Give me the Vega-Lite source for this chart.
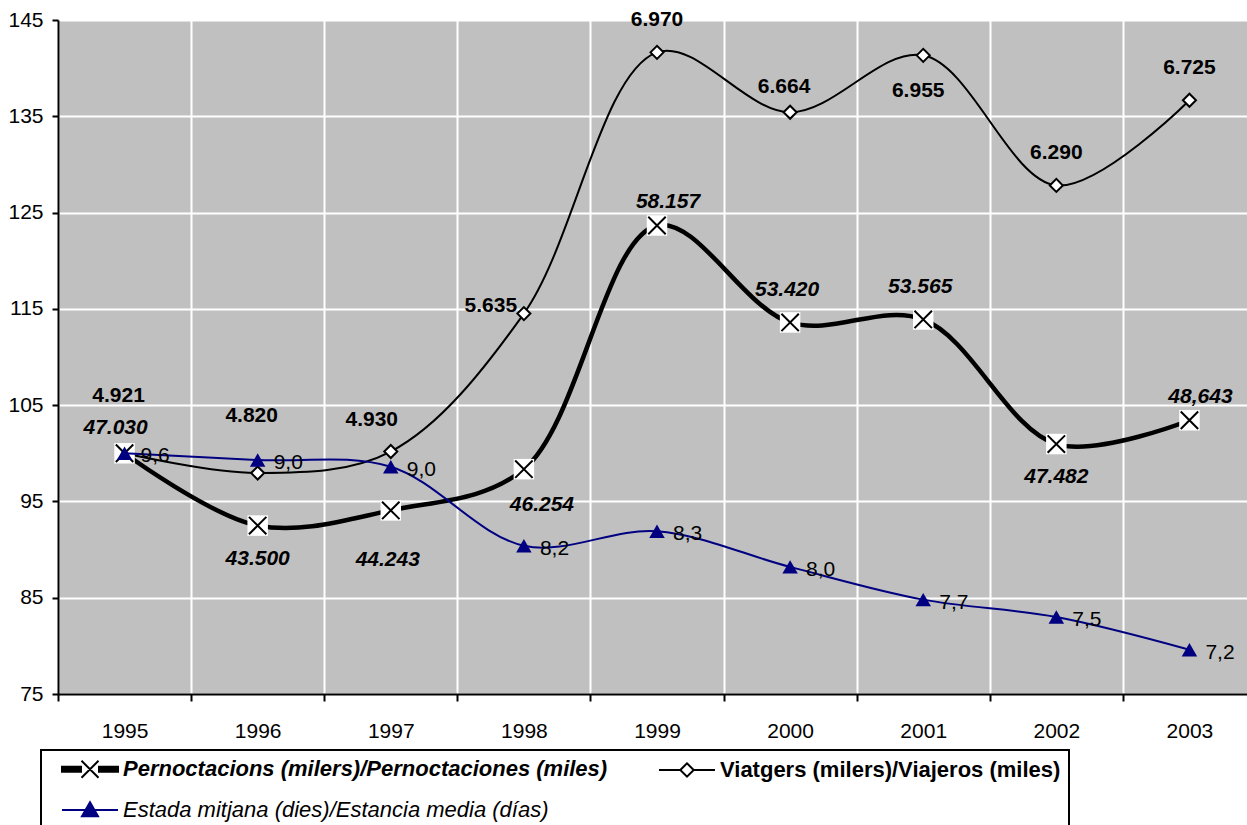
{
  "$schema": "https://vega.github.io/schema/vega-lite/v6.json",
  "autosize": {"type": "none"},
  "padding": {"left": 58, "top": 20, "right": 0, "bottom": 131},
  "width": 1189,
  "height": 674,
  "background": "white",
  "config": {
    "view": {"fill": "#C0C0C0", "stroke": null},
    "font": "Liberation Sans",
    "axis": {
      "labelFont": "Liberation Sans",
      "labelFontSize": 21,
      "labelColor": "black",
      "domainColor": "black",
      "domainWidth": 2,
      "tickColor": "black",
      "tickWidth": 2,
      "gridColor": "white",
      "gridWidth": 2,
      "gridOpacity": 1,
      "title": null
    },
    "text": {"font": "Liberation Sans", "fontSize": 21, "baseline": "middle", "color": "black"}
  },
  "data": {
    "values": [
      {"year": "1995", "key": "P", "serie": "Pernoctacions (milers)/Pernoctaciones (miles)", "value": 100.0, "label": "47.030"},
      {"year": "1996", "key": "P", "serie": "Pernoctacions (milers)/Pernoctaciones (miles)", "value": 92.49, "label": "43.500"},
      {"year": "1997", "key": "P", "serie": "Pernoctacions (milers)/Pernoctaciones (miles)", "value": 94.07, "label": "44.243"},
      {"year": "1998", "key": "P", "serie": "Pernoctacions (milers)/Pernoctaciones (miles)", "value": 98.35, "label": "46.254"},
      {"year": "1999", "key": "P", "serie": "Pernoctacions (milers)/Pernoctaciones (miles)", "value": 123.66, "label": "58.157"},
      {"year": "2000", "key": "P", "serie": "Pernoctacions (milers)/Pernoctaciones (miles)", "value": 113.59, "label": "53.420"},
      {"year": "2001", "key": "P", "serie": "Pernoctacions (milers)/Pernoctaciones (miles)", "value": 113.90, "label": "53.565"},
      {"year": "2002", "key": "P", "serie": "Pernoctacions (milers)/Pernoctaciones (miles)", "value": 100.96, "label": "47.482"},
      {"year": "2003", "key": "P", "serie": "Pernoctacions (milers)/Pernoctaciones (miles)", "value": 103.43, "label": "48,643"},
      {"year": "1995", "key": "V", "serie": "Viatgers (milers)/Viajeros (miles)", "value": 100.0, "label": "4.921"},
      {"year": "1996", "key": "V", "serie": "Viatgers (milers)/Viajeros (miles)", "value": 97.95, "label": "4.820"},
      {"year": "1997", "key": "V", "serie": "Viatgers (milers)/Viajeros (miles)", "value": 100.18, "label": "4.930"},
      {"year": "1998", "key": "V", "serie": "Viatgers (milers)/Viajeros (miles)", "value": 114.51, "label": "5.635"},
      {"year": "1999", "key": "V", "serie": "Viatgers (milers)/Viajeros (miles)", "value": 141.64, "label": "6.970"},
      {"year": "2000", "key": "V", "serie": "Viatgers (milers)/Viajeros (miles)", "value": 135.42, "label": "6.664"},
      {"year": "2001", "key": "V", "serie": "Viatgers (milers)/Viajeros (miles)", "value": 141.33, "label": "6.955"},
      {"year": "2002", "key": "V", "serie": "Viatgers (milers)/Viajeros (miles)", "value": 127.82, "label": "6.290"},
      {"year": "2003", "key": "V", "serie": "Viatgers (milers)/Viajeros (miles)", "value": 136.66, "label": "6.725"},
      {"year": "1995", "key": "E", "serie": "Estada mitjana (dies)/Estancia media (días)", "value": 100.0, "label": "9,6"},
      {"year": "1996", "key": "E", "serie": "Estada mitjana (dies)/Estancia media (días)", "value": 99.3, "label": "9,0"},
      {"year": "1997", "key": "E", "serie": "Estada mitjana (dies)/Estancia media (días)", "value": 98.6, "label": "9,0"},
      {"year": "1998", "key": "E", "serie": "Estada mitjana (dies)/Estancia media (días)", "value": 90.4, "label": "8,2"},
      {"year": "1999", "key": "E", "serie": "Estada mitjana (dies)/Estancia media (días)", "value": 91.9, "label": "8,3"},
      {"year": "2000", "key": "E", "serie": "Estada mitjana (dies)/Estancia media (días)", "value": 88.2, "label": "8,0"},
      {"year": "2001", "key": "E", "serie": "Estada mitjana (dies)/Estancia media (días)", "value": 84.8, "label": "7,7"},
      {"year": "2002", "key": "E", "serie": "Estada mitjana (dies)/Estancia media (días)", "value": 83.0, "label": "7,5"},
      {"year": "2003", "key": "E", "serie": "Estada mitjana (dies)/Estancia media (días)", "value": 79.6, "label": "7,2"}
    ]
  },
  "encoding": {
    "x": {
      "field": "year", "type": "ordinal",
      "scale": {"type": "band", "paddingInner": 0, "paddingOuter": 0, "range": [0, 1198]},
      "axis": {"labelAngle": 0, "tickBand": "extent", "grid": true, "tickSize": 7, "labelPadding": 19}
    },
    "y": {
      "field": "value", "type": "quantitative",
      "scale": {"domain": [75, 145], "nice": false, "zero": false},
      "axis": {"values": [75, 85, 95, 105, 115, 125, 135, 145], "grid": true, "tickSize": 6, "labelPadding": 9}
    }
  },
  "layer": [
    {
      "transform": [{"filter": "datum.key === 'V'"}],
      "mark": {"type": "line", "interpolate": "catmull-rom", "strokeWidth": 2},
      "encoding": {
        "color": {
          "field": "serie", "type": "nominal",
          "scale": {
            "domain": ["Pernoctacions (milers)/Pernoctaciones (miles)", "Viatgers (milers)/Viajeros (miles)", "Estada mitjana (dies)/Estancia media (días)"],
            "range": ["black", "black", "#000080"]
          },
          "legend": {
            "title": null,
            "orient": "none",
            "legendX": -17,
            "legendY": 730,
            "direction": "horizontal",
            "columns": 2,
            "gridAlign": "all",
            "padding": 8,
            "symbolOffset": 30,
            "columnPadding": 38,
            "rowPadding": 16,
            "labelOffset": 22,
            "labelFont": "Liberation Sans",
            "labelFontSize": 22,
            "labelColor": "black",
            "labelLimit": 3000,
            "strokeColor": "black",
            "symbolSize": 400,
            "encode": {
              "legend": {"update": {"strokeWidth": {"value": 2}}},
              "symbols": {
                "update": {
                  "shape": {"signal": "datum.value === 'Pernoctacions (milers)/Pernoctaciones (miles)' ? 'M-2.8,-0.25L-0.9,-0.25L-0.9,0.25L-2.8,0.25ZM0.9,-0.25L2.8,-0.25L2.8,0.25L0.9,0.25ZM-0.85,-0.85L0.85,0.85M-0.85,0.85L0.85,-0.85' : datum.value === 'Viatgers (milers)/Viajeros (miles)' ? 'M-2.8,0L-0.67,0M0.67,0L2.8,0M-0.67,0L0,-0.67L0.67,0L0,0.67Z' : 'M-2.8,0L2.8,0M0,-0.78L0.8,0.62L-0.8,0.62Z'"},
                  "size": {"value": 400},
                  "fill": {"signal": "datum.value === 'Viatgers (milers)/Viajeros (miles)' ? 'white' : datum.value === 'Pernoctacions (milers)/Pernoctaciones (miles)' ? 'black' : '#000080'"},
                  "stroke": {"signal": "datum.value === 'Estada mitjana (dies)/Estancia media (días)' ? '#000080' : 'black'"},
                  "strokeWidth": {"value": 2},
                  "opacity": {"value": 1},
                  "fillOpacity": {"value": 1},
                  "strokeOpacity": {"value": 1}
                }
              },
              "labels": {
                "update": {
                  "text": {"signal": "datum.value === 'Viatgers (milers)/Viajeros (miles)' ? datum.value + '\u00a0\u00a0\u00a0\u00a0\u00a0\u00a0\u00a0\u00a0\u00a0\u00a0\u00a0\u00a0\u00a0\u00a0\u00a0\u00a0\u00a0\u00a0\u00a0\u00a0\u00a0\u00a0\u00a0\u00a0\u00a0\u00a0\u00a0\u00a0\u00a0\u00a0\u00a0\u00a0\u00a0\u00a0' : datum.value"},
                  "fontStyle": {"signal": "datum.value === 'Viatgers (milers)/Viajeros (miles)' ? 'normal' : 'italic'"},
                  "fontWeight": {"signal": "datum.value === 'Estada mitjana (dies)/Estancia media (días)' ? 'normal' : 'bold'"}
                }
              }
            }
          }
        }
      }
    },
    {
      "transform": [{"filter": "datum.key === 'V'"}],
      "mark": {"type": "point", "shape": "diamond", "size": 170, "filled": true, "fill": "white", "stroke": "black", "strokeWidth": 2, "opacity": 1}
    },
    {
      "transform": [{"filter": "datum.key === 'P'"}],
      "mark": {"type": "line", "interpolate": "catmull-rom", "strokeWidth": 4.5},
      "encoding": {"color": {"field": "serie", "type": "nominal"}}
    },
    {
      "transform": [{"filter": "datum.key === 'P'"}],
      "mark": {"type": "point", "shape": "square", "size": 420, "filled": true, "fill": "white", "strokeWidth": 0, "opacity": 1}
    },
    {
      "transform": [{"filter": "datum.key === 'P'"}],
      "mark": {"type": "point", "shape": "M-0.85,-0.85L0.85,0.85M-0.85,0.85L0.85,-0.85", "size": 420, "filled": false, "stroke": "black", "strokeWidth": 2, "opacity": 1}
    },
    {
      "transform": [{"filter": "datum.key === 'E'"}],
      "mark": {"type": "line", "interpolate": "catmull-rom", "strokeWidth": 2},
      "encoding": {"color": {"field": "serie", "type": "nominal"}}
    },
    {
      "transform": [{"filter": "datum.key === 'E'"}],
      "mark": {"type": "point", "shape": "triangle-up", "size": 240, "filled": true, "fill": "#000080", "strokeWidth": 0, "opacity": 1}
    },
    {
      "transform": [{"filter": "datum.key === 'E'"}],
      "mark": {"type": "text", "align": "left", "dx": 16, "dy": 3},
      "encoding": {"text": {"field": "label"}}
    },
    {
      "transform": [{"filter": "datum.key === 'P' && datum.year === '1995'"}],
      "mark": {"type": "text", "fontWeight": "bold", "fontStyle": "italic", "dx": -9, "dy": -25},
      "encoding": {"text": {"field": "label"}}
    },
    {
      "transform": [{"filter": "datum.key === 'P' && (datum.year === '2000' || datum.year === '2001')"}],
      "mark": {"type": "text", "fontWeight": "bold", "fontStyle": "italic", "dx": -3, "dy": -32},
      "encoding": {"text": {"field": "label"}}
    },
    {
      "transform": [{"filter": "datum.key === 'P' && (datum.year === '1999' || datum.year === '2003')"}],
      "mark": {"type": "text", "fontWeight": "bold", "fontStyle": "italic", "dx": 11, "dy": -23},
      "encoding": {"text": {"field": "label"}}
    },
    {
      "transform": [{"filter": "datum.key === 'P' && (datum.year === '1996' || datum.year === '2002')"}],
      "mark": {"type": "text", "fontWeight": "bold", "fontStyle": "italic", "dx": 0, "dy": 33},
      "encoding": {"text": {"field": "label"}}
    },
    {
      "transform": [{"filter": "datum.key === 'P' && datum.year === '1997'"}],
      "mark": {"type": "text", "fontWeight": "bold", "fontStyle": "italic", "dx": -3, "dy": 50},
      "encoding": {"text": {"field": "label"}}
    },
    {
      "transform": [{"filter": "datum.key === 'P' && datum.year === '1998'"}],
      "mark": {"type": "text", "fontWeight": "bold", "fontStyle": "italic", "dx": 18, "dy": 36},
      "encoding": {"text": {"field": "label"}}
    },
    {
      "transform": [{"filter": "datum.key === 'V' && (datum.year === '1995' || datum.year === '1996')"}],
      "mark": {"type": "text", "fontWeight": "bold", "dx": -6, "dy": -57},
      "encoding": {"text": {"field": "label"}}
    },
    {
      "transform": [{"filter": "datum.key === 'V' && (datum.year === '1999' || datum.year === '2002' || datum.year === '2003')"}],
      "mark": {"type": "text", "fontWeight": "bold", "dx": 0, "dy": -32},
      "encoding": {"text": {"field": "label"}}
    },
    {
      "transform": [{"filter": "datum.key === 'V' && datum.year === '1997'"}],
      "mark": {"type": "text", "fontWeight": "bold", "dx": -19, "dy": -32},
      "encoding": {"text": {"field": "label"}}
    },
    {
      "transform": [{"filter": "datum.key === 'V' && datum.year === '2000'"}],
      "mark": {"type": "text", "fontWeight": "bold", "dx": -6, "dy": -25},
      "encoding": {"text": {"field": "label"}}
    },
    {
      "transform": [{"filter": "datum.key === 'V' && datum.year === '2001'"}],
      "mark": {"type": "text", "fontWeight": "bold", "dx": -5, "dy": 36},
      "encoding": {"text": {"field": "label"}}
    },
    {
      "transform": [{"filter": "datum.key === 'V' && datum.year === '1998'"}],
      "mark": {"type": "text", "fontWeight": "bold", "dx": -33, "dy": -8},
      "encoding": {"text": {"field": "label"}}
    }
  ]
}
